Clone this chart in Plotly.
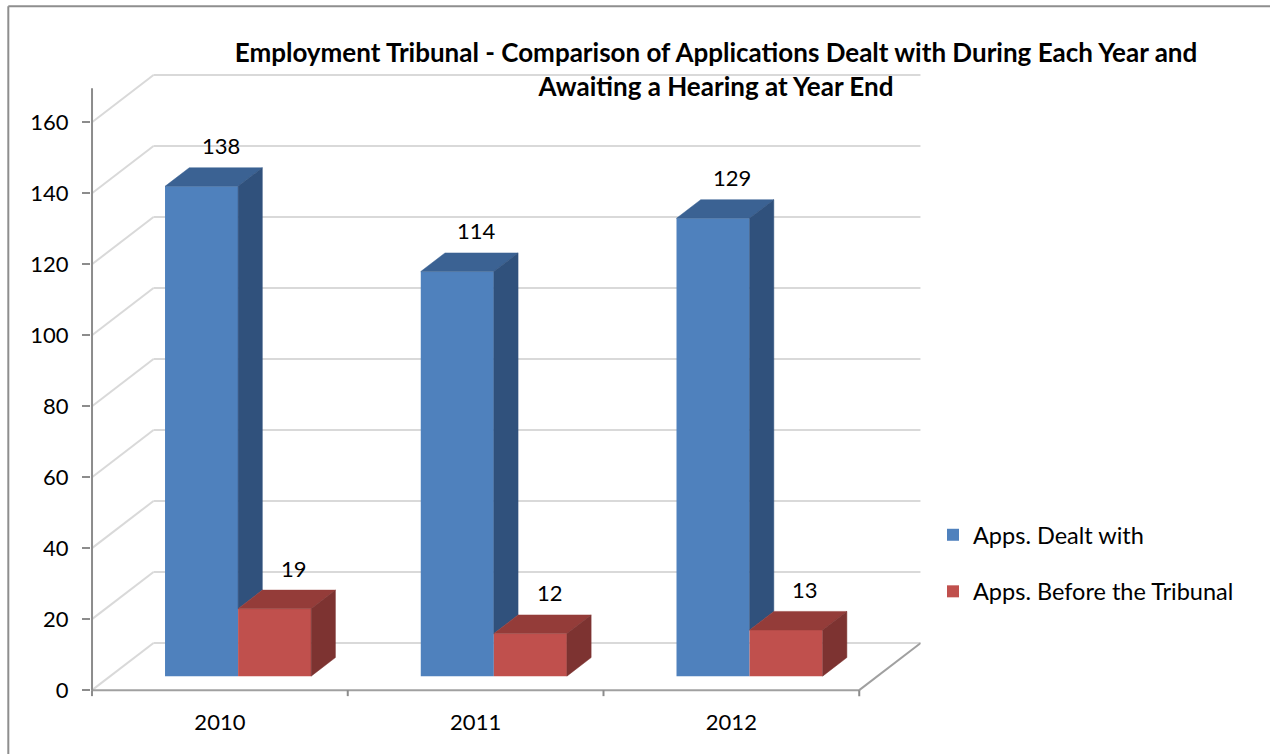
import plotly.graph_objects as go

# ---------------- data ----------------
years = ["2010", "2011", "2012"]
dealt_with = [138, 114, 129]
before_tribunal = [19, 12, 13]
y_ticks = [0, 20, 40, 60, 80, 100, 120, 140, 160]
series_names = ["Apps. Dealt with", "Apps. Before the Tribunal"]
chart_title = ("Employment Tribunal - Comparison of Applications Dealt with During Each Year and"
               "<br>Awaiting a Hearing at Year End")

# ---------------- styling / geometry ----------------
W, H = 1270, 754
FONT = "Lato"
BLUE, BLUE_TOP, BLUE_SIDE = "#4F81BD", "#3B6293", "#30517C"
RED, RED_TOP, RED_SIDE = "#C0504D", "#943C39", "#7D3331"
GRID = "#D9D9D9"
AXIS = "#8C8C8C"
FLOOR = "#A0A0A0"

PX_X = 256.6        # pixels per category
PX_Y = 3.55         # pixels per value unit
AXIS_X_PX = 92      # pixel of front-left axis
ZERO_Y_PX = 690     # pixel of value 0 at front
X_MIN, X_MAX = -0.504, 2.74
Y_MIN, Y_MAX = -2.5, 175
WALL_DX = 0.2405    # depth shift (category units)
WALL_DY = 13.3      # depth shift (value units)
F0, F1 = 0.296, 0.69  # bar front/back depth fractions
BAR_W = 0.2857
AXIS_TOP = 169.6

margin_l = AXIS_X_PX + (X_MIN + 0.5) * PX_X
plot_w = (X_MAX - X_MIN) * PX_X
margin_r = W - margin_l - plot_w
margin_t = ZERO_Y_PX - Y_MAX * PX_Y
plot_h = (Y_MAX - Y_MIN) * PX_Y
margin_b = H - margin_t - plot_h

n = len(years)
xs = list(range(n))
cx = [i + F0 * WALL_DX for i in xs]
base = F0 * WALL_DY
ddx = (F1 - F0) * WALL_DX
ddy = (F1 - F0) * WALL_DY

fig = go.Figure()

# front faces
fig.add_trace(go.Bar(x=cx, y=dealt_with, base=base, width=BAR_W, offset=-BAR_W,
                     marker=dict(color=BLUE, line=dict(width=0)), name=series_names[0],
                     legendgroup="a", hoverinfo="skip"))
fig.add_trace(go.Bar(x=cx, y=before_tribunal, base=base, width=BAR_W, offset=0,
                     marker=dict(color=RED, line=dict(width=0)), name=series_names[1],
                     legendgroup="b", hoverinfo="skip"))


def poly_trace(xx, yy, color):
    return go.Scatter(x=xx, y=yy, mode="lines", fill="toself", fillcolor=color,
                      line=dict(color=color, width=0.5), showlegend=False, hoverinfo="skip")


bt_x, bt_y, bs_x, bs_y, rt_x, rt_y, rs_x, rs_y = [], [], [], [], [], [], [], []
for i in xs:
    tb = base + dealt_with[i]
    tr = base + before_tribunal[i]
    # blue top
    xl, xr = cx[i] - BAR_W, cx[i]
    bt_x += [xl, xr, xr + ddx, xl + ddx, xl, None]
    bt_y += [tb, tb, tb + ddy, tb + ddy, tb, None]
    # blue side (visible part above red bar)
    bs_x += [xr, xr + ddx, xr + ddx, xr, xr, None]
    bs_y += [tr, tr + ddy, tb + ddy, tb, tr, None]
    # red top
    xl, xr = cx[i], cx[i] + BAR_W
    rt_x += [xl, xr, xr + ddx, xl + ddx, xl, None]
    rt_y += [tr, tr, tr + ddy, tr + ddy, tr, None]
    # red side
    rs_x += [xr, xr + ddx, xr + ddx, xr, xr, None]
    rs_y += [base, base + ddy, tr + ddy, tr, base, None]

fig.add_trace(poly_trace(bt_x, bt_y, BLUE_TOP))
fig.add_trace(poly_trace(bs_x, bs_y, BLUE_SIDE))
fig.add_trace(poly_trace(rt_x, rt_y, RED_TOP))
fig.add_trace(poly_trace(rs_x, rs_y, RED_SIDE))

# data labels
for i in xs:
    for vals, off in ((dealt_with, -BAR_W / 2), (before_tribunal, BAR_W / 2)):
        fig.add_annotation(x=cx[i] + off + 0.8 * ddx, y=base + vals[i] + ddy, text=str(vals[i]),
                           showarrow=False, yanchor="middle", yshift=22,
                           font=dict(family=FONT, size=22, color="black"))

# walls, floor and axis lines
shapes = []
left, right = -0.5, n - 0.5
for v in y_ticks:
    shapes.append(dict(type="line", xref="x", yref="y", layer="below",
                       x0=left + WALL_DX, y0=v + WALL_DY, x1=right + WALL_DX, y1=v + WALL_DY,
                       line=dict(color=GRID, width=2)))
    shapes.append(dict(type="line", xref="x", yref="y", layer="below",
                       x0=left, y0=v, x1=left + WALL_DX, y1=v + WALL_DY,
                       line=dict(color=GRID, width=2)))
shapes.append(dict(type="line", xref="x", yref="y", layer="below",
                   x0=left, y0=0, x1=right, y1=0, line=dict(color=FLOOR, width=2)))
shapes.append(dict(type="line", xref="x", yref="y", layer="below",
                   x0=right, y0=0, x1=right + WALL_DX, y1=WALL_DY, line=dict(color=FLOOR, width=2)))
for b in [k - 0.5 for k in range(n + 1)]:
    shapes.append(dict(type="line", xref="x", yref="y", layer="below",
                       x0=b, y0=0, x1=b, y1=-6 / PX_Y, line=dict(color=AXIS, width=2)))
shapes.append(dict(type="line", xref="x", yref="y", layer="below",
                   x0=left, y0=0, x1=left, y1=AXIS_TOP, line=dict(color=AXIS, width=2)))
# outer chart frame (left and top edges)
fx = (8 - margin_l) / plot_w
fy = 1 + (margin_t - 6) / plot_h
shapes.append(dict(type="line", xref="paper", yref="paper", x0=fx, y0=fy, x1=fx, y1=-1,
                   line=dict(color="#8E8E8E", width=2)))
shapes.append(dict(type="line", xref="paper", yref="paper", x0=fx, y0=fy, x1=2, y1=fy,
                   line=dict(color="#8E8E8E", width=2)))

fig.update_layout(
    width=W, height=H,
    margin=dict(l=margin_l, r=margin_r, t=margin_t, b=margin_b, pad=0),
    paper_bgcolor="white", plot_bgcolor="white",
    barmode="overlay",
    shapes=shapes,
    font=dict(family=FONT, size=22, color="black"),
    title=dict(text=chart_title, x=716 / W, xanchor="center", y=1 - 62 / H, yanchor="middle",
               xref="container", yref="container",
               font=dict(family=FONT, size=26, color="black", weight="bold")),
    xaxis=dict(range=[X_MIN, X_MAX], tickmode="array", tickvals=xs, ticktext=years,
               showgrid=False, zeroline=False, showline=False, ticks="",
               ticklabelstandoff=8, tickfont=dict(family=FONT, size=22, color="black")),
    yaxis=dict(range=[Y_MIN, Y_MAX], tickmode="array", tickvals=y_ticks,
               showgrid=False, zeroline=False, showline=False, ticks="outside", ticklen=8,
               tickcolor=AXIS, tickwidth=2, ticklabelstandoff=9,
               tickfont=dict(family=FONT, size=22, color="black")),
    legend=dict(x=933 / W, y=1 - 513 / H, xref="container", yref="container",
                xanchor="left", yanchor="top", tracegroupgap=23,
                font=dict(family=FONT, size=23.5, color="black"), bgcolor="rgba(0,0,0,0)"),
    showlegend=True,
)

fig.write_html("out.html", config={"displayModeBar": False},
               post_script="document.body.style.margin='0px';document.body.style.overflow='hidden';")
